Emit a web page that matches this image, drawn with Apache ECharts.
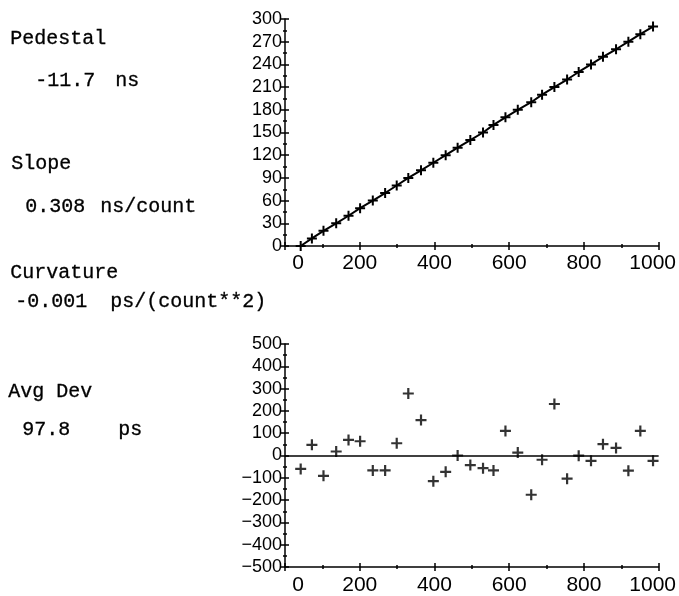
<!DOCTYPE html>
<html>
<head>
<meta charset="utf-8">
<script src="https://cdn.jsdelivr.net/npm/echarts@6/dist/echarts.min.js"></script>
<style>
html,body{margin:0;padding:0;background:#fff;}
#chart{width:679px;height:596px;}
</style>
</head>
<body>
<div id="chart"></div>
<script>
// TDC counts for each calibration step
var counts = [42, 72, 103, 137, 170, 201, 235, 268, 299, 330, 364, 397, 430, 462, 496,
              530, 558, 590, 623, 659, 688, 721, 755, 786, 819, 851, 886, 919, 951, 985];
// delay settings (ns)
var delays = [0, 10, 20, 30, 40, 50, 60, 70, 80, 90, 100, 110, 120, 130, 140,
              150, 160, 170, 180, 190, 200, 210, 220, 230, 240, 250, 260, 270, 280, 290];
// fit residuals (ps)
var residuals = [-60, 48, -91, 18, 70, 64, -67, -67, 55, 278, 159, -115, -73, 0, -43,
                 -57, -67, 110, 13, -176, -19, 231, -104, -1, -24, 51, 34, -68, 110, -24];

var fitText = [
    ["Pedestal", 10, 40],
    ["-11.7", 35, 82], ["ns", 115, 82],
    ["Slope", 11, 165],
    ["0.308", 25, 208], ["ns/count", 100, 208],
    ["Curvature", 10, 274],
    ["-0.001", 15, 303], ["ps/(count**2)", 110, 303],
    ["Avg Dev", 8, 393],
    ["97.8", 22, 431], ["ps", 118, 431]
];

var plus = 'path://M4,0 H6 V4 H10 V6 H6 V10 H4 V6 H0 V4 H4 Z';

function xAx(grid, inside) {
    return {
        type: 'value', gridIndex: grid, min: 0, max: 1000, interval: 200,
        position: 'bottom',
        axisLine: {show: !inside, onZero: false, lineStyle: {color: '#000', width: 1.5}},
        axisTick: {show: true, inside: inside, length: 4, lineStyle: {color: '#000', width: 1.5}},
        minorTick: {show: true, splitNumber: 2, length: 2, lineStyle: {color: '#000', width: 1.5}},
        splitLine: {show: false},
        axisLabel: {
            show: !inside, margin: grid == 0 ? 7 : 8, color: '#000',
            fontFamily: 'Liberation Sans', fontSize: 21,
            formatter: function (v) {
                if (v == 0) return '{a|0}';
                if (v == 1000) return '{b|1000}';
                return '' + v;
            },
            rich: {
                a: {padding: [0, 0, 0, 26], fontFamily: 'Liberation Sans', fontSize: 21, color: '#000'},
                b: {padding: [0, 12, 0, 0], fontFamily: 'Liberation Sans', fontSize: 21, color: '#000'}
            }
        }
    };
}
function yAx(grid, inside, mn, mx, step) {
    return {
        type: 'value', gridIndex: grid, min: mn, max: mx, interval: step,
        position: 'left',
        axisLine: {show: !inside, onZero: false, lineStyle: {color: '#000', width: 1.5}},
        axisTick: {show: true, inside: inside, length: 4, lineStyle: {color: '#000', width: 1.5}},
        minorTick: {show: true, splitNumber: 2, length: 2, lineStyle: {color: '#000', width: 1.5}},
        splitLine: {show: false},
        axisLabel: {
            show: !inside, margin: 3, color: '#000', fontFamily: 'Liberation Sans', fontSize: 18,
            formatter: function (v) { return ('' + v).replace('-', '\u2212'); }
        }
    };
}

var topData = [], resData = [];
for (var i = 0; i < counts.length; i++) {
    topData.push([counts[i], delays[i]]);
    resData.push([counts[i], residuals[i]]);
}

var graphics = [];
for (var k = 0; k < fitText.length; k++) {
    graphics.push({
        type: 'text', left: fitText[k][1], top: fitText[k][2] - 11,
        style: {text: fitText[k][0], font: '20px "Liberation Mono"', fill: '#000',
                stroke: '#000', lineWidth: 0.3}
    });
}

var myChart = echarts.init(document.getElementById('chart'));
myChart.setOption({
    backgroundColor: '#fff',
    animation: false,
    grid: [
        {left: 285, right: 20, top: 19, height: 227},
        {left: 285, right: 20, top: 344, height: 224}
    ],
    xAxis: [xAx(0, false), xAx(0, true), xAx(1, false), xAx(1, true)],
    yAxis: [yAx(0, false, 0, 300, 30), yAx(0, true, 0, 300, 30),
            yAx(1, false, -500, 500, 100), yAx(1, true, -500, 500, 100)],
    graphic: graphics,
    series: [
        {
            type: 'line', xAxisIndex: 0, yAxisIndex: 0, data: topData,
            symbol: plus, symbolSize: 10, showAllSymbol: true,
            lineStyle: {color: '#000', width: 2},
            itemStyle: {color: '#000'}
        },
        {
            type: 'scatter', xAxisIndex: 2, yAxisIndex: 2, data: resData,
            symbol: plus, symbolSize: 11,
            itemStyle: {color: '#000'},
            markLine: {
                silent: true, symbol: 'none', label: {show: false},
                lineStyle: {color: '#000', width: 1.5, type: 'solid'},
                data: [{yAxis: 0}]
            }
        }
    ]
});
</script>
</body>
</html>
